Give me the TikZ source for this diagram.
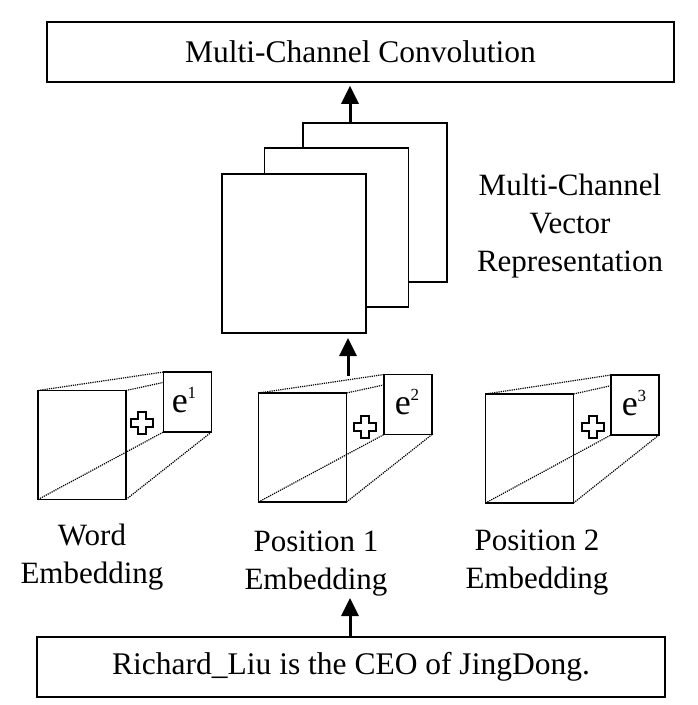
\documentclass[tikz,border=0pt]{standalone}
\usepackage{fontspec}
\setmainfont{Liberation Serif}
\usetikzlibrary{arrows.meta,backgrounds}

\newcommand\plussign[1]{%
  \draw[line width=1.1pt, shift={#1}] (-4,-11) -- (4,-11) -- (4,-4) -- (11,-4)
    -- (11,4) -- (4,4) -- (4,11) -- (-4,11) -- (-4,4) -- (-11,4)
    -- (-11,-4) -- (-4,-4) -- cycle;}
\newcommand\esup[1]{e\raisebox{14pt}{\fontsize{17}{17}\selectfont #1}}

\tikzset{
  box/.style={draw, line width=1.6pt, inner sep=0pt, font=\fontsize{31.5}{38}\selectfont},
  sheet/.style={draw, fill=white, line width=1.6pt, inner sep=0pt, outer sep=0pt,
    minimum width=144pt, minimum height=159pt},
  face/.style={draw, line width=1.4pt, inner sep=0pt, outer sep=0pt,
    minimum width=88pt, minimum height=109pt},
  slice/.style={draw, fill=white, line width=1.4pt, inner sep=0pt, outer sep=0pt,
    minimum width=48pt, minimum height=60pt},
  ebox/.style={font=\fontsize{36}{36}\selectfont, inner sep=0pt},
  edge/.style={densely dotted, line width=1.2pt},
  up/.style={-{Triangle[width=17pt,length=18pt]}, line width=3pt},
  lbl/.style={align=center, font=\fontsize{31}{38}\selectfont},
}

\begin{document}
\begin{tikzpicture}[x=1pt, y=-1pt]
\useasboundingbox (0,0) rectangle (698,705);

\node[box, minimum width=627pt, minimum height=60pt] (conv) at (360.5,52) {Multi-Channel Convolution};
\node[box, minimum width=628pt, minimum height=60pt] (sent) at (351,667) {Richard\_Liu is the CEO of JingDong.};

% channel stack
\node[sheet] (back) at (375,202.5) {};
\node[sheet] (mid) at (336.5,227.5) {};
\node[sheet] (front) at (294,253.5) {};
\node[lbl] (vec) at (570,226) {Multi-Channel\\Vector\\Representation};

% embeddings
\node[face] (wf) at (82,445) {};
\node[slice] (wb) at (187.5,402) {};
\node[face] (pf) at (302.5,447.5) {};
\node[slice] (pb) at (408,404.5) {};
\node[face] (qf) at (529.5,448.5) {};
\node[slice] (qb) at (635,405) {};

\begin{scope}[on background layer]
\draw[edge] (wf.north west) -- (wb.north west);
\draw[edge] (wf.north east) -- (wb.north east);
\draw[edge] (wf.south west) -- (wb.south west);
\draw[edge] (wf.south east) -- (wb.south east);
\draw[edge] (pf.north west) -- (pb.north west);
\draw[edge] (pf.north east) -- (pb.north east);
\draw[edge] (pf.south west) -- (pb.south west);
\draw[edge] (pf.south east) -- (pb.south east);
\draw[edge] (qf.north west) -- (qb.north west);
\draw[edge] (qf.north east) -- (qb.north east);
\draw[edge] (qf.south west) -- (qb.south west);
\draw[edge] (qf.south east) -- (qb.south east);
\end{scope}

\node[ebox] (e1) at (184,400) {\esup{1}};
\node[ebox] (e2) at (407,402) {\esup{2}};
\node[ebox] (e3) at (634,403) {\esup{3}};

\plussign{(142,423)}
\plussign{(365,427)}
\plussign{(593,427)}

\node[lbl] (wl) at (92,557) {Word\\Embedding};
\node[lbl] (pl) at (316,564) {Position 1\\Embedding};
\node[lbl] (ql) at (537,563) {Position 2\\Embedding};

% arrows
\coordinate (t1) at (350,123);
\coordinate (t2) at (348,376);
\coordinate (t3) at (350,598);
\draw[up, shorten >=3pt] (t1) -- (t1 |- conv.south);
\draw[up, shorten >=5pt] (t2) -- (t2 |- front.south);
\draw[up] (sent.north -| t3) -- (t3);

\end{tikzpicture}
\end{document}
